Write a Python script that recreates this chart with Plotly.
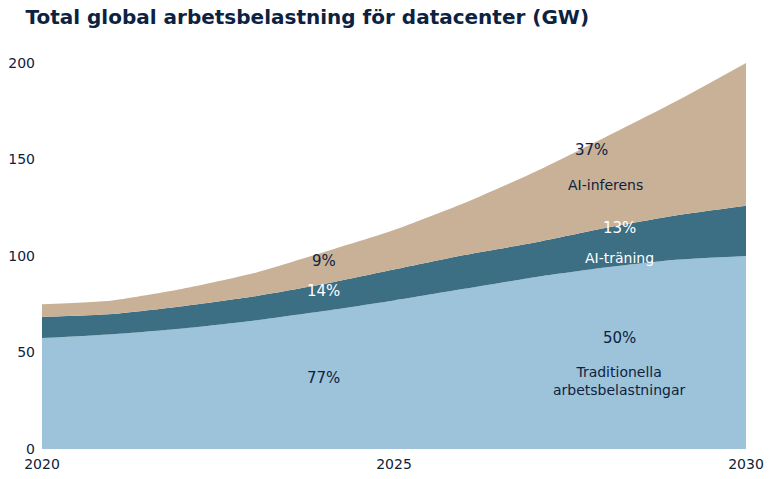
import plotly.graph_objects as go

years = [2020, 2021, 2022, 2023, 2024, 2025, 2026, 2027, 2028, 2029, 2030]
traditional = [57.5, 59.5, 62.5, 66.5, 71.5, 77, 83, 89, 94, 98, 100]
training = [11, 10.5, 11.5, 12.5, 14, 16, 17.5, 18, 20.5, 23, 26]
inference = [6.5, 7, 9, 12, 16.5, 20.5, 27, 36.5, 47, 59, 74]

series_names = ["Traditionella arbetsbelastningar", "AI-träning", "AI-inferens"]
fill_colors = ["#9dc3da", "#3c6e84", "#c8b196"]

navy = "#0d2240"

fig = go.Figure()
for name, vals, col in zip(series_names, [traditional, training, inference], fill_colors):
    fig.add_trace(go.Scatter(
        x=years, y=vals, name=name, stackgroup="one",
        mode="none", fillcolor=col,
        line={"shape": "spline", "smoothing": 0.6},
    ))

# text labels inside the areas: (x, y, text, color, size)
labels = [
    (2024, 97.5, "9%", navy, 15),
    (2024, 82, "14%", "white", 15),
    (2024, 37, "77%", navy, 15),
    (2027.8, 155, "37%", navy, 15),
    (2028, 137, "AI-inferens", navy, 14),
    (2028.2, 114.5, "13%", "white", 15),
    (2028.2, 99, "AI-träning", "white", 14),
    (2028.2, 57.5, "50%", navy, 15),
    (2028.2, 35, "Traditionella<br>arbetsbelastningar", navy, 14),
]
annotations = [
    {"x": x, "y": y, "text": t, "showarrow": False, "xref": "x", "yref": "y",
     "font": {"color": c, "size": s}}
    for x, y, t, c, s in labels
]

fig.update_layout(
    title={"text": "<b>Total global arbetsbelastning för datacenter (GW)</b>",
           "x": 0.033, "xanchor": "left", "y": 0.965, "yanchor": "middle",
           "font": {"size": 20, "color": navy}},
    font={"family": "DejaVu Sans", "size": 14, "color": navy},
    paper_bgcolor="white",
    plot_bgcolor="white",
    showlegend=False,
    width=770, height=479,
    margin={"l": 42, "r": 24, "t": 63, "b": 30},
    xaxis={"range": [2020, 2030], "tickvals": [2020, 2025, 2030],
           "showgrid": False, "zeroline": False, "ticks": "",
           "automargin": False, "ticklabelstandoff": 5},
    yaxis={"range": [0, 200], "tickvals": [0, 50, 100, 150, 200],
           "showgrid": False, "zeroline": False, "ticks": "",
           "automargin": False, "ticklabelstandoff": 6},
    annotations=annotations,
)

fig.write_html("out.html", config={"displayModeBar": False},
               post_script="document.body.style.margin='0';document.body.style.overflow='hidden';")
